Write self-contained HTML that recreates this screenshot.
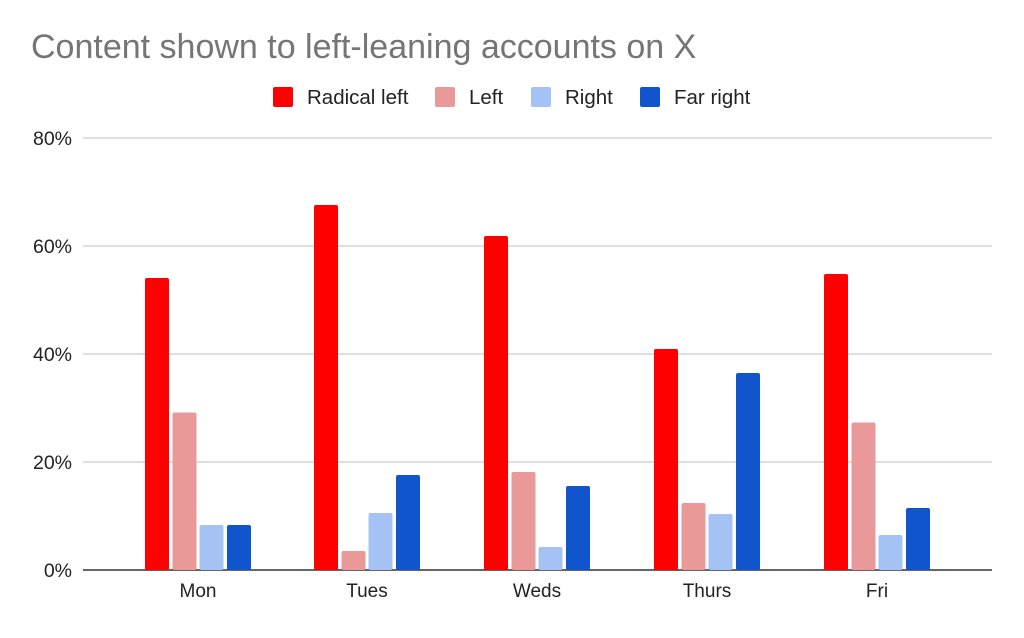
<!DOCTYPE html>
<html><head><meta charset="utf-8"><style>
body{margin:0;background:#fff;}
svg text{font-family:"Liberation Sans",Arial,sans-serif;}
</style></head><body>
<svg width="1024" height="633" xmlns="http://www.w3.org/2000/svg">
<rect width="1024" height="633" fill="#fff"/>
<text x="31" y="58" font-size="34" fill="#757575">Content shown to left-leaning accounts on X</text>
<g font-size="20.5" fill="#222">
<rect x="273" y="87" width="20" height="20" rx="2" fill="#ff0000"/><text x="307" y="104">Radical left</text>
<rect x="435" y="87" width="20" height="20" rx="2" fill="#ea9999"/><text x="469" y="104">Left</text>
<rect x="531" y="87" width="20" height="20" rx="2" fill="#a4c2f4"/><text x="565" y="104">Right</text>
<rect x="640" y="87" width="20" height="20" rx="2" fill="#1155cc"/><text x="674" y="104">Far right</text>
</g>
<g stroke="#ccc" stroke-width="1.3">
<line x1="83" x2="992" y1="138" y2="138"/><line x1="83" x2="992" y1="246" y2="246"/>
<line x1="83" x2="992" y1="354" y2="354"/><line x1="83" x2="992" y1="462" y2="462"/>
</g>
<g font-size="19.5" fill="#222" text-anchor="end">
<text x="72" y="145">80%</text><text x="72" y="253">60%</text><text x="72" y="361">40%</text><text x="72" y="469">20%</text><text x="72" y="577">0%</text>
</g>
<line x1="83" x2="992" y1="570" y2="570" stroke="#333" stroke-width="1.5"/>
<g font-size="19" fill="#222" text-anchor="middle">
<text x="198" y="597">Mon</text><text x="367" y="597">Tues</text><text x="537" y="597">Weds</text><text x="707" y="597">Thurs</text><text x="877" y="597">Fri</text>
</g>
<g>
<rect x="145" y="278" width="24" height="292" rx="2" fill="#ff0000"/>
<rect x="172.5" y="412.5" width="24" height="157.5" rx="2" fill="#ea9999"/>
<rect x="199.5" y="525" width="24" height="45" rx="2" fill="#a4c2f4"/>
<rect x="227" y="525" width="24" height="45" rx="2" fill="#1155cc"/>
<rect x="314" y="205" width="24" height="365" rx="2" fill="#ff0000"/>
<rect x="341.5" y="551" width="24" height="19" rx="2" fill="#ea9999"/>
<rect x="368.5" y="513" width="24" height="57" rx="2" fill="#a4c2f4"/>
<rect x="396" y="475" width="24" height="95" rx="2" fill="#1155cc"/>
<rect x="484" y="236" width="24" height="334" rx="2" fill="#ff0000"/>
<rect x="511.5" y="472" width="24" height="98" rx="2" fill="#ea9999"/>
<rect x="538.5" y="547" width="24" height="23" rx="2" fill="#a4c2f4"/>
<rect x="566" y="486" width="24" height="84" rx="2" fill="#1155cc"/>
<rect x="654" y="349" width="24" height="221" rx="2" fill="#ff0000"/>
<rect x="681.5" y="503" width="24" height="67" rx="2" fill="#ea9999"/>
<rect x="708.5" y="514" width="24" height="56" rx="2" fill="#a4c2f4"/>
<rect x="736" y="373" width="24" height="197" rx="2" fill="#1155cc"/>
<rect x="824" y="274" width="24" height="296" rx="2" fill="#ff0000"/>
<rect x="851.5" y="422.5" width="24" height="147.5" rx="2" fill="#ea9999"/>
<rect x="878.5" y="535" width="24" height="35" rx="2" fill="#a4c2f4"/>
<rect x="906" y="508" width="24" height="62" rx="2" fill="#1155cc"/>
</g>
</svg>
</body></html>
